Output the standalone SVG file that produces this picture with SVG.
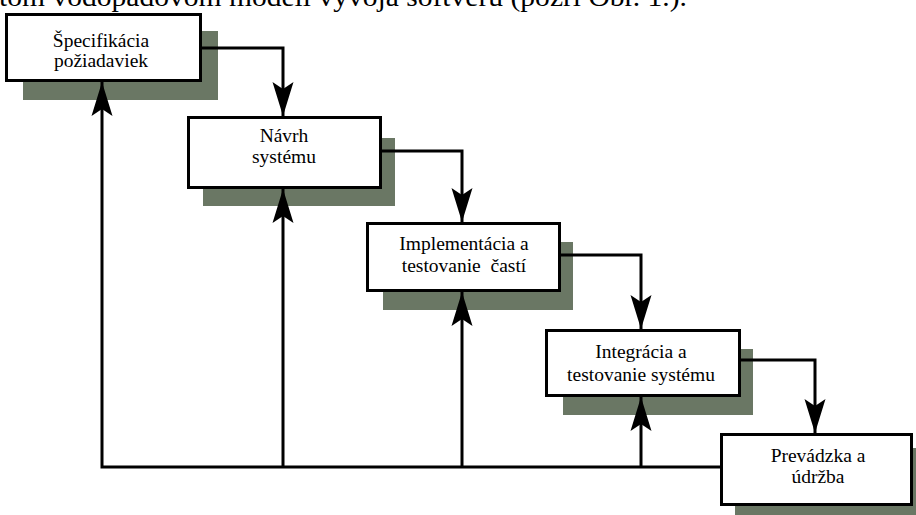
<svg xmlns="http://www.w3.org/2000/svg" width="916" height="515" viewBox="0 0 916 515">
<style>
.box{fill:#ffffff;stroke:#000000;stroke-width:3}
.shadow{fill:#6a7764}
.lbl{font-family:"Liberation Serif","Times New Roman",serif;font-size:19.5px;fill:#000000;text-anchor:middle}
.cap{font-family:"Liberation Serif","Times New Roman",serif;font-size:27px;fill:#000000}
.conn{fill:none;stroke:#000000;stroke-width:3}
</style>
<defs>
<marker id="arr" markerUnits="userSpaceOnUse" viewBox="0 -11 34 22" refX="34" refY="0" markerWidth="34" markerHeight="22" orient="auto">
<path d="M34,0 L0,-10.5 L7,0 L0,10.5 Z" fill="#000000"/>
</marker>
</defs>
<rect width="916" height="515" fill="#ffffff"/>
<text class="cap" x="-1" y="6" textLength="688" lengthAdjust="spacingAndGlyphs">tom vodopádovom modeli vývoja softvéru (pozri Obr. 1.).</text>
<g id="shadows">
<rect class="shadow" x="23" y="31" width="195" height="69"/>
<rect class="shadow" x="203" y="138" width="192" height="68"/>
<rect class="shadow" x="383" y="242" width="190" height="68"/>
<rect class="shadow" x="563" y="349" width="190" height="66"/>
<rect class="shadow" x="735" y="448" width="195" height="74"/>
</g>
<g id="connectors">
<path class="conn" d="M202,48 H283 V116" marker-end="url(#arr)"/>
<path class="conn" d="M382,151 H462 V222" marker-end="url(#arr)"/>
<path class="conn" d="M561,255 H641 V329" marker-end="url(#arr)"/>
<path class="conn" d="M741,360 H815 V433" marker-end="url(#arr)"/>
<path class="conn" d="M720,467 H102 V82" marker-end="url(#arr)"/>
<path class="conn" d="M283,467 V189" marker-end="url(#arr)"/>
<path class="conn" d="M462,467 V292" marker-end="url(#arr)"/>
<path class="conn" d="M641,467 V397" marker-end="url(#arr)"/>
</g>
<g id="n1">
<rect class="box" x="6.5" y="14.5" width="194" height="66"/>
<text class="lbl" x="101" y="47">Špecifikácia</text>
<text class="lbl" x="101" y="67">požiadaviek</text>
</g>
<g id="n2">
<rect class="box" x="188.5" y="117.5" width="192" height="70"/>
<text class="lbl" x="284" y="142">Návrh</text>
<text class="lbl" x="284" y="163">systému</text>
</g>
<g id="n3">
<rect class="box" x="367.5" y="223.5" width="192" height="67"/>
<text class="lbl" x="464" y="250">Implementácia a</text>
<text class="lbl" x="464" y="272" xml:space="preserve">testovanie  častí</text>
</g>
<g id="n4">
<rect class="box" x="546.5" y="330.5" width="193" height="65"/>
<text class="lbl" x="641" y="358">Integrácia a</text>
<text class="lbl" x="641" y="381">testovanie systému</text>
</g>
<g id="n5">
<rect class="box" x="721.5" y="434.5" width="190" height="70"/>
<text class="lbl" x="818" y="462">Prevádzka a</text>
<text class="lbl" x="818" y="483">údržba</text>
</g>
</svg>
